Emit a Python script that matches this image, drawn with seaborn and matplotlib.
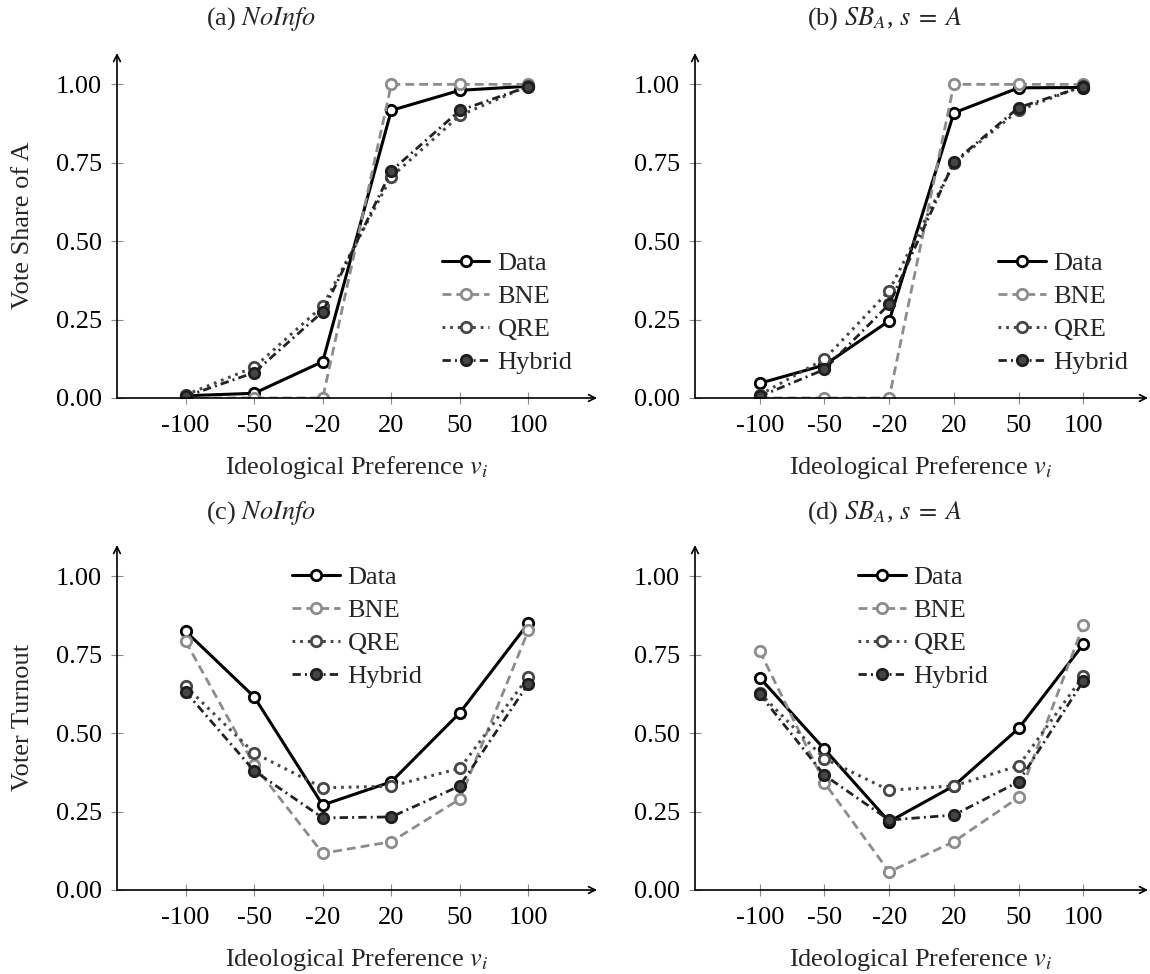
import matplotlib
matplotlib.use("Agg")
import matplotlib.pyplot as plt
import seaborn as sns
import numpy as np
import pandas as pd

sns.set_theme(style="white")
plt.rcParams['font.family'] = ['Liberation Serif', 'DejaVu Serif']
plt.rcParams['mathtext.fontset'] = 'stix'

categories = ["-100", "-50", "-20", "20", "50", "100"]
series_names = ["Data", "BNE", "QRE", "Hybrid"]

# (a) Vote share, NoInfo
vote_noinfo_data = [0.007, 0.015, 0.116, 0.917, 0.981, 0.994]
vote_noinfo_bne = [0.0, 0.0, 0.0, 1.0, 1.0, 1.0]
vote_noinfo_qre = [0.010, 0.098, 0.293, 0.705, 0.901, 0.995]
vote_noinfo_hybrid = [0.005, 0.081, 0.275, 0.724, 0.917, 0.993]

# (b) Vote share, SB_A, s=A
vote_sba_data = [0.047, 0.105, 0.246, 0.909, 0.989, 0.990]
vote_sba_bne = [0.0, 0.0, 0.0, 1.0, 1.0, 1.0]
vote_sba_qre = [0.010, 0.124, 0.342, 0.749, 0.917, 0.995]
vote_sba_hybrid = [0.005, 0.091, 0.299, 0.752, 0.926, 0.993]

# (c) Turnout, NoInfo
turn_noinfo_data = [0.825, 0.616, 0.271, 0.345, 0.565, 0.851]
turn_noinfo_bne = [0.793, 0.398, 0.117, 0.154, 0.290, 0.828]
turn_noinfo_qre = [0.650, 0.437, 0.326, 0.331, 0.388, 0.680]
turn_noinfo_hybrid = [0.632, 0.380, 0.230, 0.233, 0.332, 0.658]

# (d) Turnout, SB_A, s=A
turn_sba_data = [0.677, 0.449, 0.218, 0.332, 0.515, 0.783]
turn_sba_bne = [0.762, 0.342, 0.058, 0.154, 0.295, 0.844]
turn_sba_qre = [0.628, 0.419, 0.318, 0.332, 0.396, 0.682]
turn_sba_hybrid = [0.624, 0.366, 0.223, 0.239, 0.345, 0.666]

titles = ["(a) $NoInfo$", r"(b) $SB_A$, $s\;=\;A$", "(c) $NoInfo$", r"(d) $SB_A$, $s\;=\;A$"]
ylabels = ["Vote Share of A", "Voter Turnout"]
xlabel = "Ideological Preference $v_i$"
yticks = [0.0, 0.25, 0.5, 0.75, 1.0]

styles = {
    "Data": dict(color="black", dashes=None, mfc="white", mec="black", lw=2.2),
    "BNE": dict(color="#8c8c8c", dashes=(3.2, 1.8), mfc="white", mec="#8c8c8c", lw=2.0),
    "QRE": dict(color="#484848", dashes=(0.9, 1.6), mfc="white", mec="#484848", lw=2.2),
    "Hybrid": dict(color="#222222", dashes=(3.0, 1.5, 0.7, 1.5), mfc="#454545", mec="#1e1e1e", lw=2.0),
}

W, H = 1150, 974
fig = plt.figure(figsize=(W / 100, H / 100), dpi=100)

rects = [
    [117 / W, 1 - 398 / H, 480 / W, 345 / H],
    [695 / W, 1 - 398 / H, 453 / W, 345 / H],
    [117 / W, 1 - 890 / H, 480 / W, 345 / H],
    [695 / W, 1 - 890 / H, 453 / W, 345 / H],
]
panels = [
    [vote_noinfo_data, vote_noinfo_bne, vote_noinfo_qre, vote_noinfo_hybrid],
    [vote_sba_data, vote_sba_bne, vote_sba_qre, vote_sba_hybrid],
    [turn_noinfo_data, turn_noinfo_bne, turn_noinfo_qre, turn_noinfo_hybrid],
    [turn_sba_data, turn_sba_bne, turn_sba_qre, turn_sba_hybrid],
]
legend_anchor = [(0.677, 0.246), (0.669, 0.246), (0.365, 0.762), (0.36, 0.762)]
title_pos = [(261, 19), (885, 19), (261, 513), (885, 513)]
xlabel_pos = [(357, 474), (921, 474), (357, 966), (921, 966)]

FS = 19
pos = list(range(len(categories)))

for i, ax_rect in enumerate(rects):
    ax = fig.add_axes(ax_rect)
    for name, vals in zip(series_names, panels[i]):
        st = styles[name]
        df = pd.DataFrame({"x": pos, "y": vals})
        sns.lineplot(data=df, x="x", y="y", ax=ax, color=st["color"], lw=st["lw"],
                     marker="o", markersize=7.5, markeredgewidth=2.0,
                     markerfacecolor=st["mfc"], markeredgecolor=st["mec"],
                     label=name, zorder=3)
        line = ax.lines[-1]
        if st["dashes"] is not None:
            line.set_dashes(st["dashes"])
    ax.set_xlim(-1, 6)
    ax.set_ylim(0, 1.1)
    ax.set_xticks(pos)
    ax.set_xticklabels(categories)
    ax.set_yticks(yticks)
    ax.set_yticklabels([f"{v:.2f}" for v in yticks])
    ax.set_xlabel("")
    ax.set_ylabel("")
    for s in ax.spines.values():
        s.set_visible(False)
    ax.tick_params(axis="both", direction="inout", length=8, width=0.8, color="#8a8a8a",
                   labelsize=FS, labelcolor="black", left=True, bottom=True)
    ax.tick_params(axis="x", pad=8)
    ax.tick_params(axis="y", pad=7)
    ax.annotate("", xy=(1, 0), xycoords="axes fraction", xytext=(0, 0),
                arrowprops=dict(arrowstyle="->", lw=1.2, color="black", shrinkA=0, shrinkB=0,
                                mutation_scale=12), annotation_clip=False)
    ax.annotate("", xy=(0, 1), xycoords="axes fraction", xytext=(0, 0),
                arrowprops=dict(arrowstyle="->", lw=1.2, color="black", shrinkA=0, shrinkB=0,
                                mutation_scale=12), annotation_clip=False)
    leg = ax.legend(loc="center left", bbox_to_anchor=legend_anchor[i], frameon=False,
                    fontsize=FS, handlelength=1.8, handletextpad=0.3, labelspacing=0.36,
                    borderpad=0, borderaxespad=0, numpoints=1)
    tx, ty = title_pos[i]
    fig.text(tx / W, 1 - ty / H, titles[i], ha="center", va="center", fontsize=FS)
    lx, ly = xlabel_pos[i]
    fig.text(lx / W, 1 - ly / H, xlabel, ha="center", va="baseline", fontsize=FS)

fig.text(23 / W, 1 - 225 / H, ylabels[0], rotation=90, ha="center", va="center", fontsize=FS)
fig.text(23 / W, 1 - 717 / H, ylabels[1], rotation=90, ha="center", va="center", fontsize=FS)

fig.savefig("out.png", dpi=100)
